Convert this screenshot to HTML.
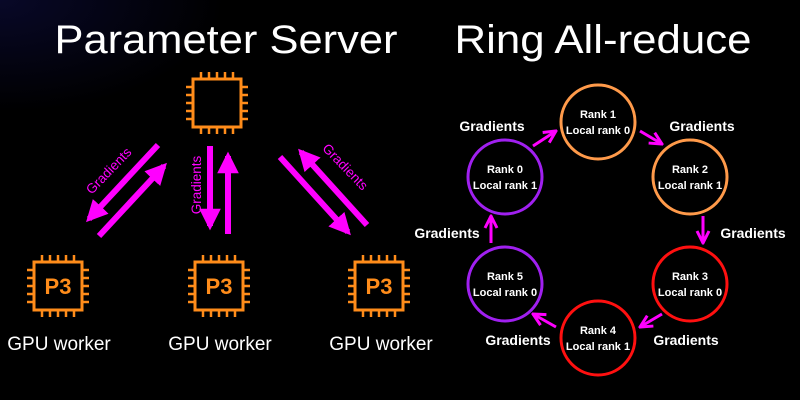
<!DOCTYPE html>
<html><head><style>
html,body{margin:0;padding:0;background:#000;}
svg{display:block;}
text{font-family:"Liberation Sans",sans-serif;}
</style></head><body>
<svg width="800" height="400" viewBox="0 0 800 400" xmlns="http://www.w3.org/2000/svg">
<defs>
<radialGradient id="bg" cx="0" cy="0" r="1">
<stop offset="0" stop-color="#080828"/><stop offset="0.28" stop-color="#000"/>
</radialGradient>
<marker id="ah" viewBox="0 0 10 10" refX="8" refY="5" markerWidth="3.6" markerHeight="3.6" orient="auto"><path d="M0,0 L10,5 L0,10 z" fill="#ff00ff"/></marker>
<marker id="ah2" viewBox="0 0 10 10" refX="9" refY="5" markerWidth="5" markerHeight="5" orient="auto"><path d="M1,1 L9,5 L1,9" fill="none" stroke="#ff00ff" stroke-width="2"/></marker>
<g id="chip">
<rect x="0" y="0" width="48" height="48" fill="none" stroke="#ff8c1a" stroke-width="3"/>
<g stroke="#ff8c1a" stroke-width="2.5">
<path d="M8,0V-7M16,0V-7M24,0V-7M32,0V-7M40,0V-7"/>
<path d="M8,48V55M16,48V55M24,48V55M32,48V55M40,48V55"/>
<path d="M0,8H-7M0,16H-7M0,24H-7M0,32H-7M0,40H-7"/>
<path d="M48,8H55M48,16H55M48,24H55M48,32H55M48,40H55"/>
</g>
</g>
</defs>
<rect width="800" height="400" fill="url(#bg)"/>
<text x="226" y="53" fill="#fff" font-size="40" text-anchor="middle" textLength="343" lengthAdjust="spacingAndGlyphs">Parameter Server</text>
<text x="603" y="53" fill="#fff" font-size="40" text-anchor="middle" textLength="297" lengthAdjust="spacingAndGlyphs">Ring All-reduce</text>

<use href="#chip" x="193" y="79"/>
<use href="#chip" x="34" y="262"/>
<use href="#chip" x="195" y="262"/>
<use href="#chip" x="355" y="262"/>
<g fill="#ff8c1a" font-size="22" font-weight="bold" text-anchor="middle">
<text x="58" y="294">P3</text><text x="219" y="294">P3</text><text x="379" y="294">P3</text>
</g>
<g fill="#fff" font-size="19" text-anchor="middle">
<text x="59" y="350">GPU worker</text><text x="220" y="350">GPU worker</text><text x="381" y="350">GPU worker</text>
</g>

<g stroke="#ff00ff" stroke-width="6" marker-end="url(#ah)">
<line x1="158" y1="145" x2="89" y2="219"/>
<line x1="99" y1="236" x2="164" y2="166"/>
<line x1="210" y1="146" x2="210" y2="226"/>
<line x1="228" y1="234" x2="228" y2="156"/>
<line x1="280" y1="157" x2="348" y2="232"/>
<line x1="367" y1="225" x2="301" y2="152"/>
</g>
<g fill="#ff00ff" font-size="13.5">
<text transform="translate(112,174) rotate(-46)" text-anchor="middle">Gradients</text>
<text transform="translate(201,185) rotate(-90)" text-anchor="middle">Gradients</text>
<text transform="translate(342,170) rotate(46)" text-anchor="middle">Gradients</text>
</g>

<g fill="none" stroke-width="3">
<circle cx="598" cy="122" r="37" stroke="#ff9a4a"/>
<circle cx="690" cy="177" r="37" stroke="#ff9a4a"/>
<circle cx="690" cy="284" r="37" stroke="#ff1010"/>
<circle cx="598" cy="338" r="37" stroke="#ff1010"/>
<circle cx="505" cy="284" r="37" stroke="#a020f0"/>
<circle cx="505" cy="177" r="37" stroke="#a020f0"/>
</g>
<g fill="#fff" font-size="11" font-weight="bold" text-anchor="middle">
<text x="598" y="118">Rank 1</text><text x="598" y="134">Local rank 0</text>
<text x="690" y="173">Rank 2</text><text x="690" y="189">Local rank 1</text>
<text x="690" y="280">Rank 3</text><text x="690" y="296">Local rank 0</text>
<text x="598" y="334">Rank 4</text><text x="598" y="350">Local rank 1</text>
<text x="505" y="280">Rank 5</text><text x="505" y="296">Local rank 0</text>
<text x="505" y="173">Rank 0</text><text x="505" y="189">Local rank 1</text>
</g>
<g stroke="#ff00ff" stroke-width="3" fill="none" marker-end="url(#ah2)">
<line x1="533" y1="146" x2="556" y2="131"/>
<line x1="640" y1="131" x2="662" y2="144"/>
<line x1="703" y1="216" x2="703" y2="243"/>
<line x1="662" y1="314" x2="640" y2="327"/>
<line x1="556" y1="327" x2="533" y2="314"/>
<line x1="491" y1="243" x2="491" y2="216"/>
</g>
<g fill="#fff" font-size="14" font-weight="bold" text-anchor="middle">
<text x="492" y="131">Gradients</text>
<text x="702" y="131">Gradients</text>
<text x="753" y="238">Gradients</text>
<text x="686" y="345">Gradients</text>
<text x="518" y="345">Gradients</text>
<text x="447" y="238">Gradients</text>
</g>
</svg>
</body></html>
